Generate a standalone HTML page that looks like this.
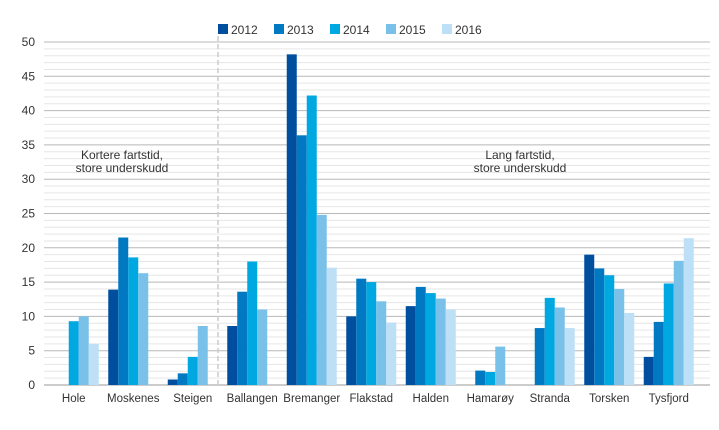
<!DOCTYPE html>
<html><head><meta charset="utf-8"><style>
body{margin:0;background:#fff}
svg{font-family:"Liberation Sans",sans-serif}
</style></head><body>
<svg id="c" width="719" height="425"></svg>
<script>
const categories=["Hole","Moskenes","Steigen","Ballangen","Bremanger","Flakstad","Halden","Hamarøy","Stranda","Torsken","Tysfjord"];
const years=["2012","2013","2014","2015","2016"];
const s2012=[null,13.9,0.8,8.6,48.2,10,11.5,null,null,19,4.1];
const s2013=[null,21.5,1.7,13.6,36.4,15.5,14.3,2.1,8.3,17,9.2];
const s2014=[9.3,18.6,4.1,18,42.2,15,13.4,1.9,12.7,16,14.8];
const s2015=[10,16.3,8.6,11,24.8,12.2,12.6,5.6,11.3,14,18.1];
const s2016=[6,null,null,null,17.1,9.1,11,null,8.3,10.5,21.4];
const yTicks=[0,5,10,15,20,25,30,35,40,45,50];
const series=[s2012,s2013,s2014,s2015,s2016];
const colors=["#004f9e","#0079c2","#00a8e1","#7ac1ea","#bde0f6"];
const svg=document.getElementById('c');
const NS="http://www.w3.org/2000/svg";
function mk(t,a,p){const e=document.createElementNS(NS,t);for(const k in a)e.setAttribute(k,a[k]);(p||svg).appendChild(e);return e;}
const L=44,R=710,Y0=385,Y50=42;
const y=v=>Y0-(v/50)*(Y0-Y50);
const band=59.5,bw=10;
const x=i=>L+i*band+(band-5*bw)/2;
for(let v=1;v<50;v++){if(v%5)mk('line',{x1:L,x2:R,y1:y(v),y2:y(v),stroke:'#e6e6e6','stroke-width':1});}
yTicks.forEach(v=>{
 const l=mk('line',{x1:L,x2:R,y1:y(v),y2:y(v),stroke:v===0?'#999':'#b8b8b8','stroke-width':1});
 
 
 const t=mk('text',{x:35,y:y(v)+4,'text-anchor':'end','font-size':12,fill:'#333'});t.textContent=v;
 
 
});
const d=mk('line',{x1:218,x2:218,y1:36,y2:Y0,stroke:'#ccc','stroke-width':1.5,'stroke-dasharray':'5,3'});


series.forEach((s,j)=>s.forEach((v,i)=>{
 if(v==null)return;
 const r=mk('rect',{x:x(i)+j*bw,y:y(v),width:bw,height:Y0-y(v),fill:colors[j]});
 
 
}));
categories.forEach((c,i)=>{
 const t=mk('text',{x:L+i*band+band/2,y:402,'text-anchor':'middle','font-size':11.5,fill:'#333'});t.textContent=c;
 
 
});
years.forEach((yr,j)=>{
 const gx=218+j*56;
 const r=mk('rect',{x:gx,y:24,width:10,height:10,fill:colors[j]});
 
 
 const t=mk('text',{x:gx+13,y:34,'font-size':12,fill:'#333'});t.textContent=yr;
 
 
});
[["Kortere fartstid,",122,159],["store underskudd",122,172],["Lang fartstid,",520,159],["store underskudd",520,172]].forEach((a,k)=>{
 const t=mk('text',{x:a[1],y:a[2],'text-anchor':'middle','font-size':12,fill:'#333'});t.textContent=a[0];
 
 
});
</script>
</body></html>
